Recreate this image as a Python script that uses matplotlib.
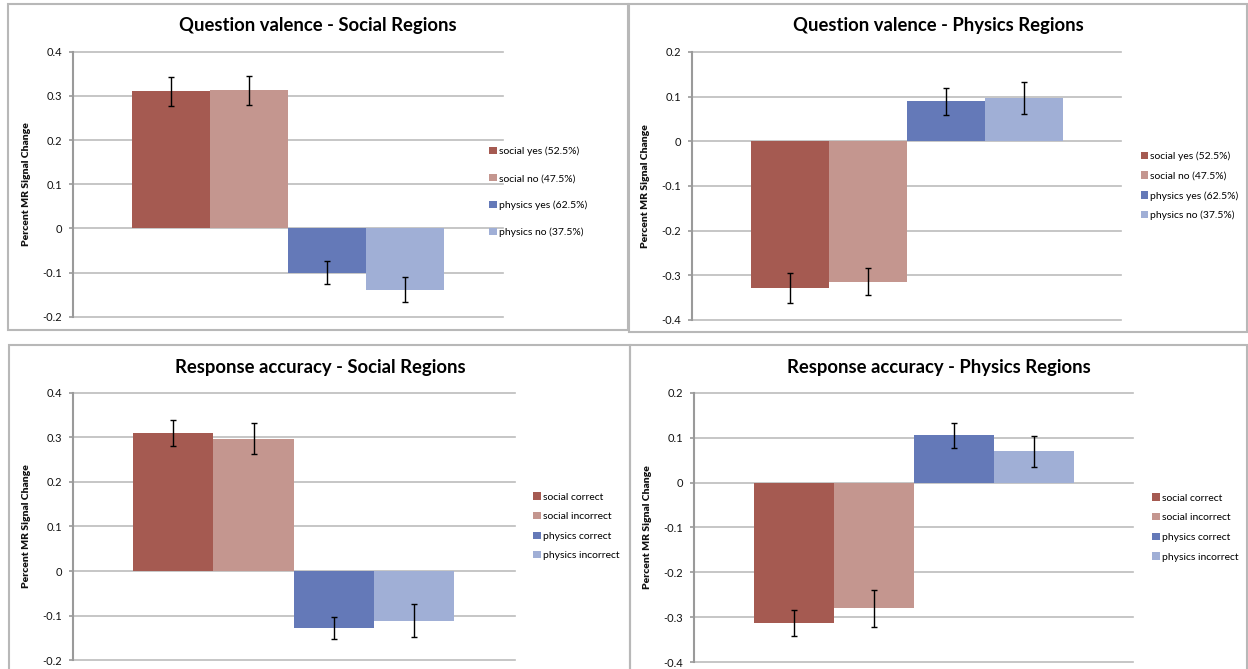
import matplotlib
matplotlib.use("Agg")
import matplotlib.pyplot as plt
from matplotlib.patches import Rectangle
import numpy as np

# ---------------- data ----------------
valence_labels = ['social yes (52.5%)', 'social no (47.5%)', 'physics yes (62.5%)', 'physics no (37.5%)']
accuracy_labels = ['social correct', 'social incorrect', 'physics correct', 'physics incorrect']

val_social_means = [0.310, 0.313, -0.101, -0.139]
val_social_err = [0.033, 0.033, 0.026, 0.028]
val_physics_means = [-0.328, -0.314, 0.089, 0.097]
val_physics_err = [0.034, 0.031, 0.031, 0.035]
acc_social_means = [0.309, 0.297, -0.128, -0.111]
acc_social_err = [0.029, 0.035, 0.025, 0.037]
acc_physics_means = [-0.313, -0.280, 0.105, 0.069]
acc_physics_err = [0.029, 0.041, 0.028, 0.034]

ticks_social = [-0.2, -0.1, 0, 0.1, 0.2, 0.3, 0.4]
ticklabels_social = ['-0.2', '-0.1', '0', '0.1', '0.2', '0.3', '0.4']
ticks_physics = [-0.4, -0.3, -0.2, -0.1, 0, 0.1, 0.2]
ticklabels_physics = ['-0.4', '-0.3', '-0.2', '-0.1', '0', '0.1', '0.2']

titles = ['Question valence - Social Regions', 'Question valence - Physics Regions',
          'Response accuracy - Social Regions', 'Response accuracy - Physics Regions']
ylabel = 'Percent MR Signal Change'

colors = ['#A55A51', '#C4968F', '#6479B8', '#A0AFD6']

# ---------------- style ----------------
plt.rcParams['font.family'] = ['Lato', 'DejaVu Sans']

W, H = 1248, 669
fig = plt.figure(figsize=(W / 100, H / 100), dpi=100)
fig.patch.set_facecolor('white')


def fx(x):
    return x / W


def fy(y):
    return 1 - y / H


# panel borders (pixel coords: x0, y0, x1, y1)
borders = [(8, 4, 628, 330), (629, 4, 1247, 331.5), (8.5, 345, 630, 680), (630, 344.5, 1247, 680)]
for (x0, y0, x1, y1) in borders:
    fig.patches.append(Rectangle((fx(x0), fy(y1)), fx(x1) - fx(x0), fy(y0) - fy(y1),
                                 transform=fig.transFigure, fill=False,
                                 edgecolor='#b8b8b8', linewidth=1.5, zorder=0))

panels = [
    dict(box=(73, 51.7, 503, 316.7), means=val_social_means, err=val_social_err,
         labels=valence_labels, ticks=ticks_social, tl=ticklabels_social,
         title_xy=(318, 25), leg=(489, 192), spacing=1.68),
    dict(box=(692, 51.9, 1121, 320), means=val_physics_means, err=val_physics_err,
         labels=valence_labels, ticks=ticks_physics, tl=ticklabels_physics,
         title_xy=(938, 25), leg=(1140.5, 186), spacing=0.98),
    dict(box=(73, 392.6, 514.5, 660.3), means=acc_social_means, err=acc_social_err,
         labels=accuracy_labels, ticks=ticks_social, tl=ticklabels_social,
         title_xy=(320, 367), leg=(533, 526.4), spacing=0.98),
    dict(box=(694.4, 392.6, 1133.4, 662.3), means=acc_physics_means, err=acc_physics_err,
         labels=accuracy_labels, ticks=ticks_physics, tl=ticklabels_physics,
         title_xy=(939, 367), leg=(1152, 527.5), spacing=0.98),
]

bw = 1 / 5.5
for p, title in zip(panels, titles):
    x0, y0, x1, y1 = p['box']
    ax = fig.add_axes([fx(x0), fy(y1), fx(x1) - fx(x0), fy(y0) - fy(y1)])
    ax.set_facecolor('none')
    n = len(p['means'])
    xs = (np.arange(n) - (n - 1) / 2) * bw
    bars = []
    for i in range(n):
        b = ax.bar(xs[i], p['means'][i], width=bw, color=colors[i], label=p['labels'][i],
                   zorder=2, linewidth=0)
        bars.append(b)
    ax.errorbar(xs, p['means'], yerr=p['err'], fmt='none', ecolor='black',
                elinewidth=1.0, capsize=1.9, capthick=1.0, zorder=3)
    ax.set_xlim(-0.5, 0.5)
    ax.set_ylim(min(p['ticks']), max(p['ticks']))
    ax.set_yticks(p['ticks'])
    ax.set_yticklabels(p['tl'])
    ax.set_xticks([])
    ax.tick_params(axis='y', length=3, width=1.2, color='#9a9a9a', pad=5,
                   labelsize=8, labelcolor='#111111')
    for s in ['top', 'right', 'bottom']:
        ax.spines[s].set_visible(False)
    ax.spines['left'].set_color('#9a9a9a')
    ax.spines['left'].set_linewidth(1.5)
    ax.spines['left'].set_zorder(4)
    ax.grid(axis='y', color='#bcbcbc', linewidth=1.2, zorder=0)
    ax.set_axisbelow(True)
    for gl in ax.get_ygridlines():
        gl.set_clip_on(False)
    ax.set_ylabel(ylabel, fontsize=7.5, fontweight='heavy', color='#111111')
    ax.yaxis.set_label_coords(-42 / (x1 - x0), 0.5)

    fig.text(fx(p['title_xy'][0]), fy(p['title_xy'][1]), title, ha='center', va='center',
             fontsize=13.3, fontweight='bold', color='black')

    lx, ly = p['leg']
    ax.legend(handles=bars, loc='center left', bbox_to_anchor=(fx(lx), fy(ly)),
              bbox_transform=fig.transFigure, frameon=False, fontsize=7.5,
              handlelength=0.72, handleheight=0.72, handletextpad=0.2,
              labelspacing=p['spacing'], borderpad=0, borderaxespad=0)

fig.savefig('out.png', dpi=100, facecolor='white')
